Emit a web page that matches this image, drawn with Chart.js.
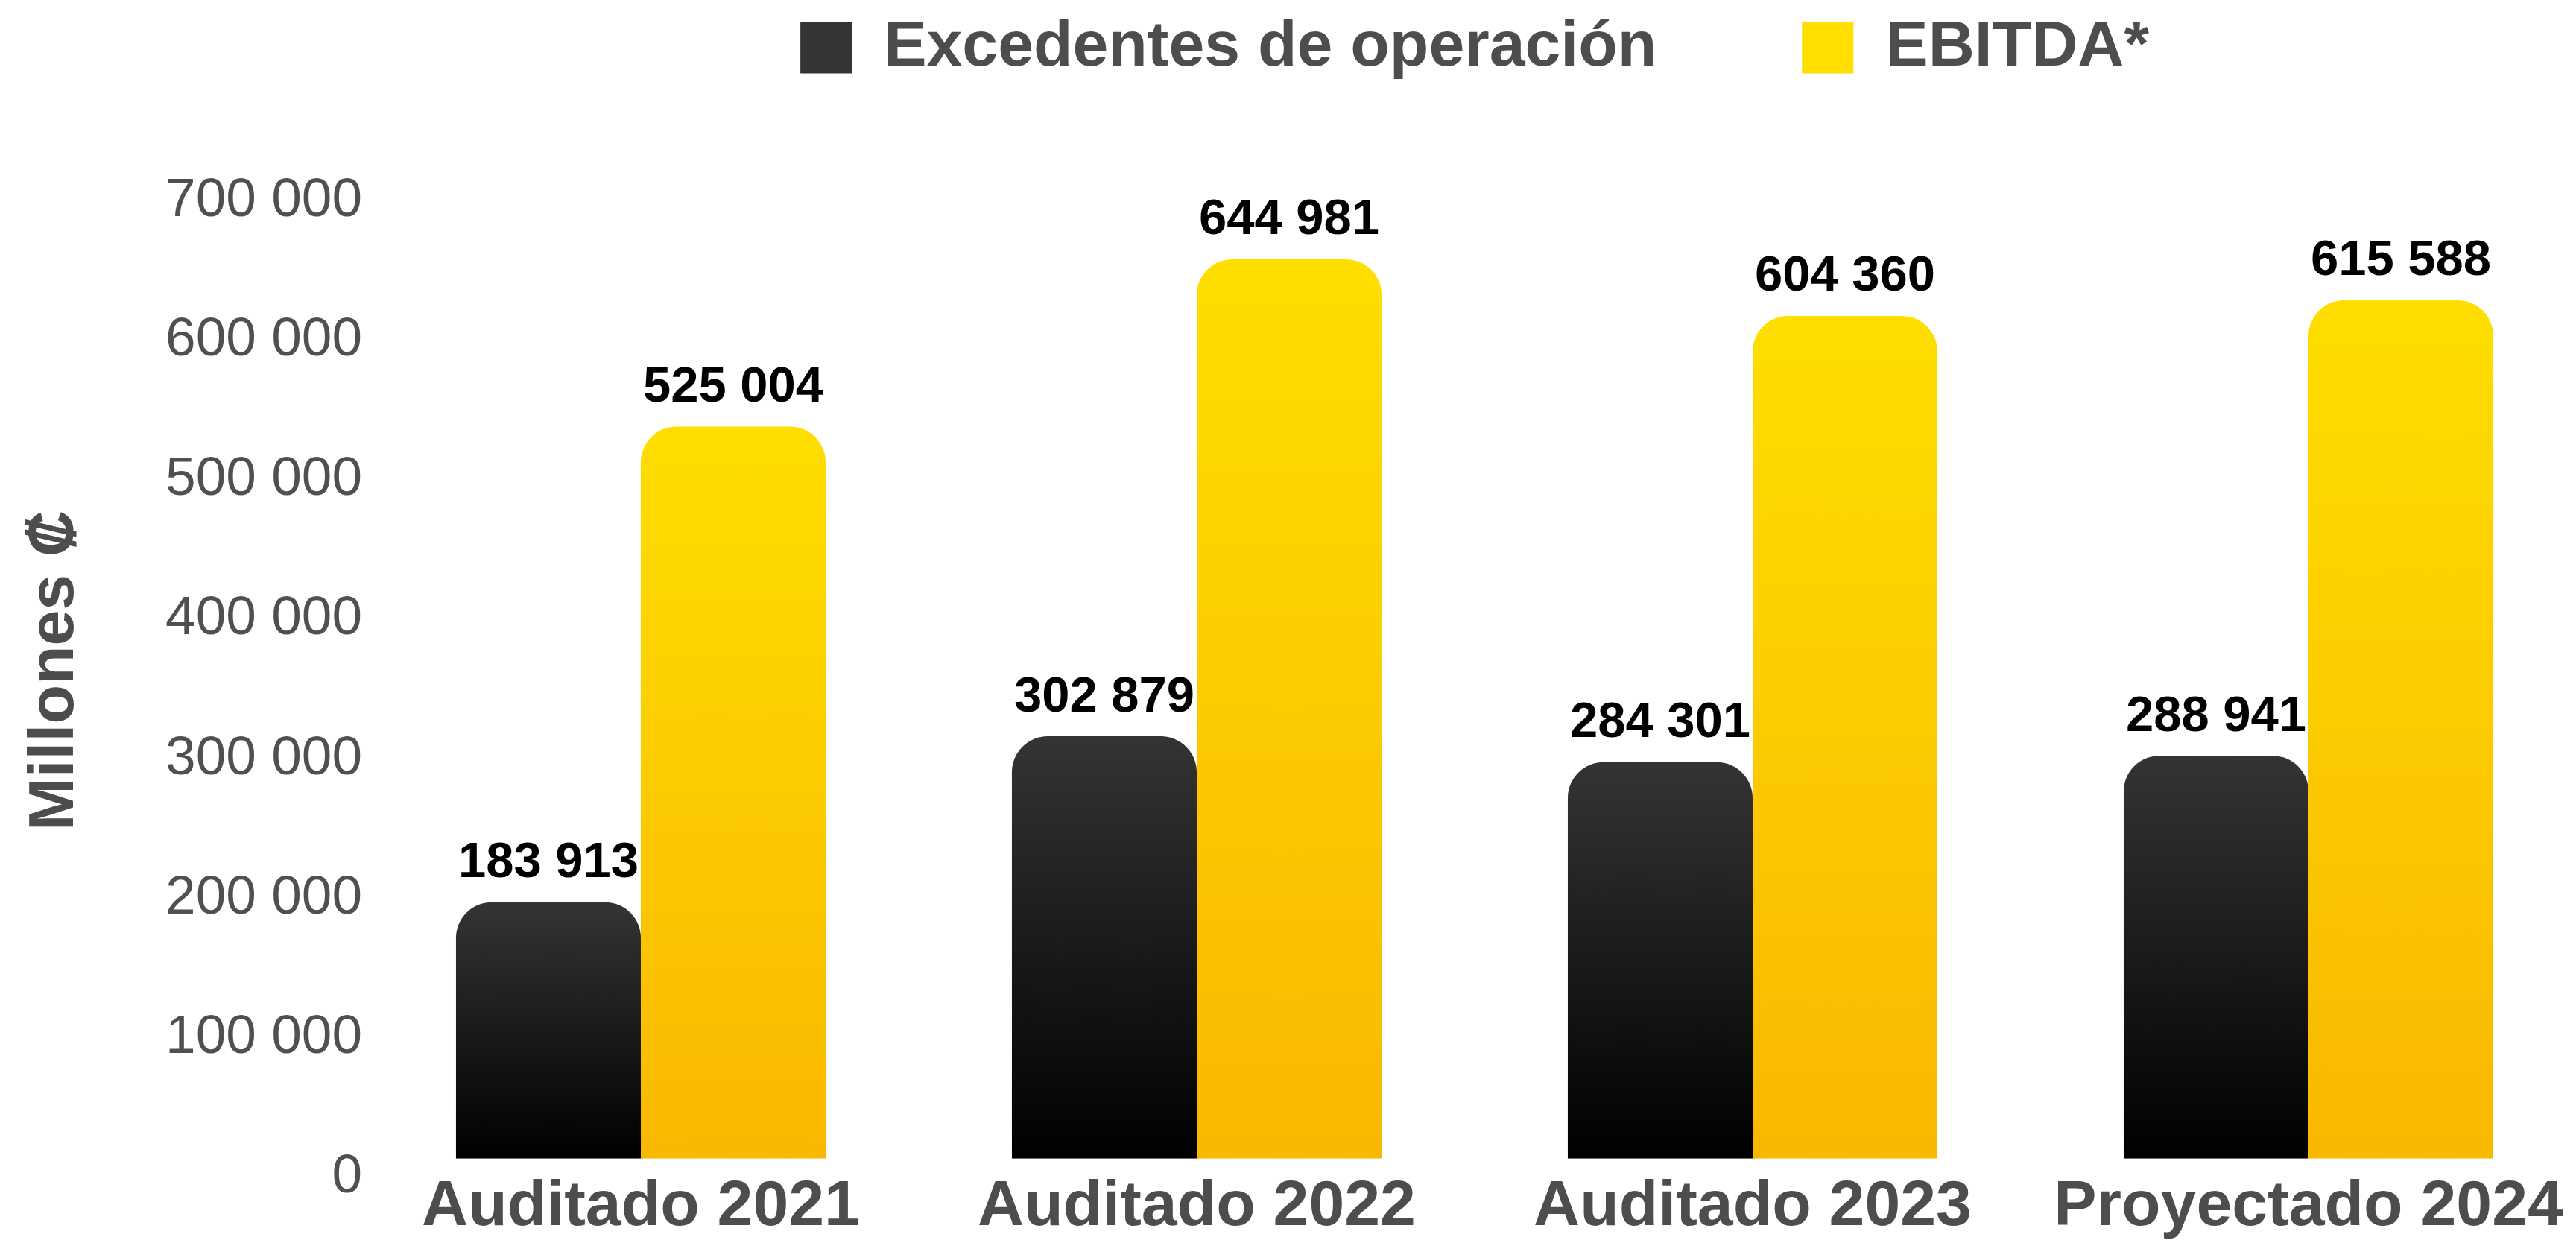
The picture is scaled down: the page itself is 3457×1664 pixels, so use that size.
<!DOCTYPE html>
<html lang="es">
<head>
<meta charset="utf-8">
<title>Excedentes de operación y EBITDA</title>
<script src="https://cdn.jsdelivr.net/npm/chart.js@4/dist/chart.umd.min.js"></script>
<style>
  html, body { margin: 0; padding: 0; background: #fff; overflow: hidden; }
  /* canvas a bit larger than the window: the original picture is cropped on the right */
  #wrap { position: absolute; left: 0; top: -174px; width: 3520px; height: 1860px; }
</style>
</head>
<body>
<div id="wrap"><canvas id="chart" width="3520" height="1860"></canvas></div>
<script>
// ── Données ────────────────────────────────────────────────────────
const categories  = ["Auditado 2021", "Auditado 2022", "Auditado 2023", "Proyectado 2024"];
const seriesNames = ["Excedentes de operación", "EBITDA*"];
const excedentes  = [183913, 302879, 284301, 288941];
const ebitda      = [525004, 644981, 604360, 615588];
const yTickValues = [0, 100000, 200000, 300000, 400000, 500000, 600000, 700000];
const yTitle      = "Millones ₡";

// ── Style ──────────────────────────────────────────────────────────
const FONT = '"Liberation Sans", Arial, sans-serif';
const GREY = "#4d4d4d";
const LEGEND_FONT = 86;
const LEGEND_BOX  = 69;
const LEGEND_PAD  = 195;

const fmt = (v) => String(v).replace(/\B(?=(\d{3})+(?!\d))/g, " ");

// dégradé vertical propre à chaque barre (haut → base)
function gradientFill(top, bottom) {
  return (c) => {
    const chart = c.chart;
    let y0, y1;
    if (c.type === "data" && chart.scales.y) {
      y0 = chart.scales.y.getPixelForValue(c.raw);
      y1 = chart.scales.y.getPixelForValue(0);
    } else {
      // case de légende
      y0 = LEGEND_PAD + (LEGEND_FONT - LEGEND_BOX) / 2;
      y1 = y0 + LEGEND_BOX;
    }
    const g = chart.ctx.createLinearGradient(0, y0, 0, y1);
    g.addColorStop(0, top);
    g.addColorStop(1, bottom);
    return g;
  };
}

// étiquettes de valeur au-dessus des barres
const valueLabels = {
  id: "valueLabels",
  afterDatasetsDraw(chart) {
    const ctx = chart.ctx;
    ctx.save();
    ctx.font = `bold 67px ${FONT}`;
    ctx.fillStyle = "#000";
    ctx.textAlign = "center";
    ctx.textBaseline = "middle";
    chart.data.datasets.forEach((ds, i) => {
      chart.getDatasetMeta(i).data.forEach((bar, j) => {
        ctx.fillText(fmt(ds.data[j]), bar.x, bar.y - 52);
      });
    });
    ctx.restore();
  },
};

new Chart(document.getElementById("chart"), {
  type: "bar",
  data: {
    labels: categories,
    datasets: [
      {
        label: seriesNames[0],
        data: excedentes,
        backgroundColor: gradientFill("#343434", "#000000"),
        borderRadius: 48,
        borderSkipped: "bottom",
        categoryPercentage: 0.665,
        barPercentage: 1.0,
      },
      {
        label: seriesNames[1],
        data: ebitda,
        backgroundColor: gradientFill("#FFDE00", "#F9B800"),
        borderRadius: 48,
        borderSkipped: "bottom",
        categoryPercentage: 0.665,
        barPercentage: 1.0,
      },
    ],
  },
  options: {
    responsive: false,
    animation: false,
    layout: { padding: { left: 0, right: 49, top: 0, bottom: 0 } },
    plugins: {
      tooltip: { enabled: false },
      legend: {
        position: "top",
        fullSize: false,
        align: "center",
        labels: {
          boxWidth: LEGEND_BOX,
          boxHeight: LEGEND_BOX,
          padding: LEGEND_PAD,
          color: GREY,
          font: { family: FONT, size: LEGEND_FONT, weight: "bold" },
        },
      },
    },
    scales: {
      x: {
        offset: true,
        grid: { display: false, drawTicks: false },
        border: { display: false },
        ticks: {
          color: GREY,
          padding: 14,
          maxRotation: 0,
          autoSkip: false,
          font: { family: FONT, size: 86, weight: "bold" },
        },
      },
      // axe muet : simple espace entre la légende et la zone de tracé
      xTop: {
        type: "category",
        position: "top",
        display: true,
        offset: true,
        grid: { display: false, drawTicks: false },
        border: { display: false },
        ticks: { display: false },
        afterFit: (s) => { s.height = 128; },
      },
      y: {
        min: 0,
        max: 700000,
        grid: { display: false, drawTicks: false },
        border: { display: false },
        afterBuildTicks: (s) => { s.ticks = yTickValues.map((v) => ({ value: v })); },
        afterFit: (s) => { s.width = 487; },
        ticks: {
          color: "#505050",
          padding: 1,
          labelOffset: 25,
          font: { family: FONT, size: 73 },
          callback: (v) => fmt(v),
        },
        title: {
          display: true,
          text: yTitle,
          color: GREY,
          padding: { top: 23, bottom: 0 },
          font: { family: FONT, size: 86, weight: "bold" },
        },
      },
    },
  },
  plugins: [valueLabels],
});
</script>
</body>
</html>
